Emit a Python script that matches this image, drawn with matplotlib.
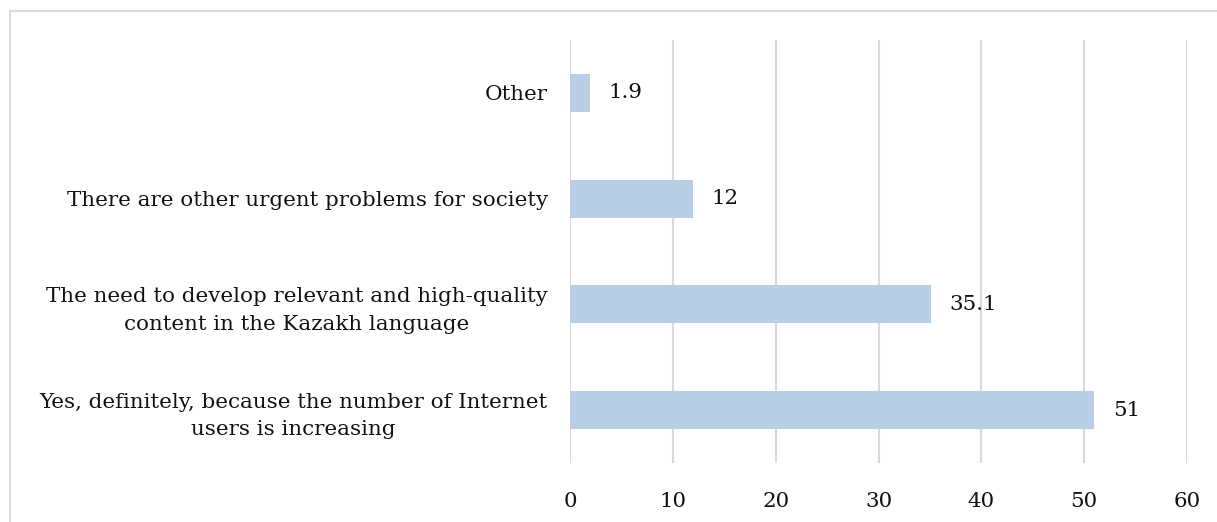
import matplotlib
matplotlib.use("Agg")
import matplotlib.pyplot as plt
from matplotlib.lines import Line2D

categories = [
    "Yes, definitely, because the number of Internet\nusers is increasing",
    "The need to develop relevant and high-quality\ncontent in the Kazakh language",
    "There are other urgent problems for society",
    "Other",
]
values = [51, 35.1, 12, 1.9]
value_labels = ["51", "35.1", "12", "1.9"]
x_ticks = [0, 10, 20, 30, 40, 50, 60]

plt.rcParams["font.family"] = ["DejaVu Serif"]
FS = 15.4

W, H = 1217, 522
fig = plt.figure(figsize=(W / 100, H / 100), dpi=100)
ax = fig.add_axes([570 / W, 1 - 463 / H, (1187 - 570) / W, (463 - 40) / H])

pos = list(range(len(categories)))
ax.barh(pos, values, height=0.36, color="#b9cde5", zorder=3)
for p, v, lab in zip(pos, values, value_labels):
    ax.text(v + 1.8, p, lab, va="center", ha="left", fontsize=FS, color="#111111")

ax.set_xlim(0, 60)
ax.set_ylim(-0.5, len(categories) - 0.5)
ax.set_xticks(x_ticks)
ax.set_xticklabels([str(t) for t in x_ticks], fontsize=FS, color="#111111")
ax.set_yticks(pos)
ax.set_yticklabels(categories, fontsize=FS, color="#111111",
                   multialignment="center", linespacing=1.55)
ax.tick_params(axis="both", length=0)
ax.tick_params(axis="x", pad=21)
ax.tick_params(axis="y", pad=16)
ax.xaxis.grid(True, color="#d9d9d9", linewidth=1.5, zorder=0)
for s in ax.spines.values():
    s.set_visible(False)

# light frame along the top and left edges of the figure
fig.add_artist(Line2D([9.5 / W, 1.0], [1 - 10.5 / H, 1 - 10.5 / H],
                      transform=fig.transFigure, color="#d9d9d9", linewidth=1.5))
fig.add_artist(Line2D([9.5 / W, 9.5 / W], [0.0, 1 - 10.5 / H],
                      transform=fig.transFigure, color="#d9d9d9", linewidth=1.5))

fig.savefig("out.png", dpi=100)
